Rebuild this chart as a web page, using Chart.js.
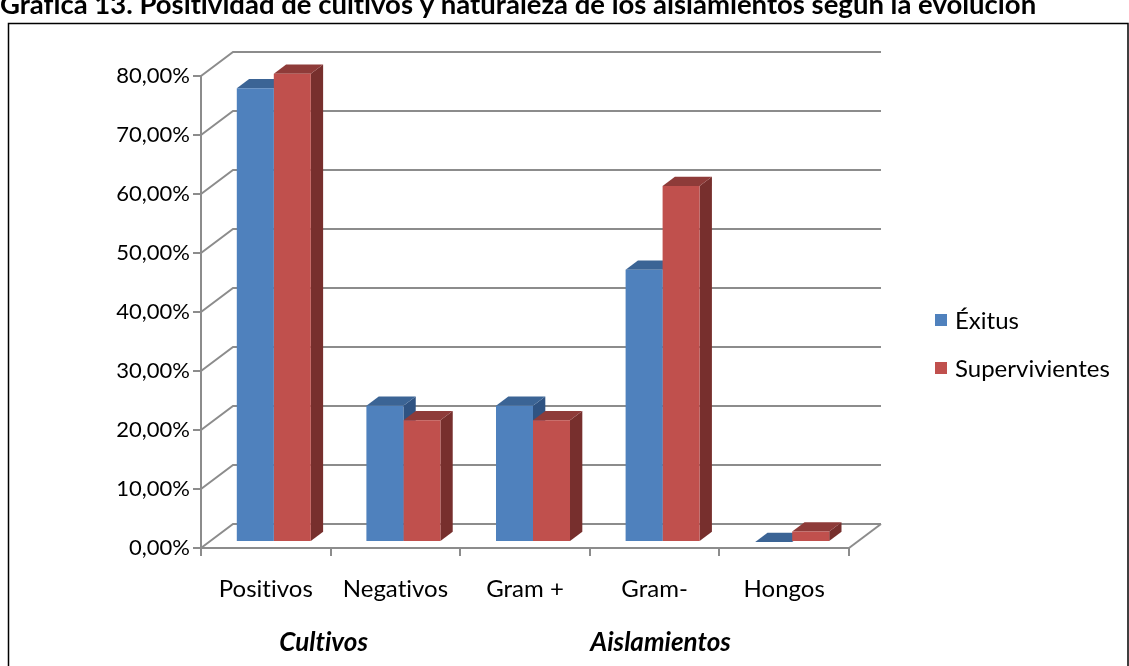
<!DOCTYPE html>
<html>
<head>
<meta charset="utf-8">
<script src="https://cdn.jsdelivr.net/npm/chart.js@4/dist/chart.umd.min.js"></script>
<style>
  html, body { margin: 0; padding: 0; background: #ffffff; overflow: hidden; }
  canvas { display: block; }
</style>
</head>
<body>
<canvas id="chart" width="1129" height="666"></canvas>
<script>
// Chart content
const titleText = 'Gráfica 13. Positividad de cultivos y naturaleza de los aislamientos según la evolución';
const categories = ['Positivos', 'Negativos', 'Gram +', 'Gram-', 'Hongos'];
const seriesNames = ['Éxitus', 'Supervivientes'];
const exitus = [76.92, 23.08, 23.08, 46.15, 0];
const supervivientes = [79.37, 20.63, 20.63, 60.32, 1.8];
const yTicks = [0, 10, 20, 30, 40, 50, 60, 70, 80];
const groupLabels = ['Cultivos', 'Aislamientos'];
const groupSpans = [[0, 1], [2, 4]];
const groupShift = [-7, 6];

// Styling
const FONT = 'Lato, "Open Sans", sans-serif';
const GRID = '#8C8C8C';
const faceFront = ['#4F81BD', '#C0504D'];
const faceTop = ['#3B6495', '#8E3B39'];
const faceSide = ['#2F5382', '#772F2D'];

// 3D box depth (back wall offset) and bar placement inside the depth
const WALL = { dx: 32, dy: -24 };
const BAR_FRONT = 0.25;   // fraction of depth where bar front face sits
const BAR_DEPTH = 0.385;  // bar depth as fraction of box depth

const fmtPct = v => v.toFixed(2).replace('.', ',') + '%';

const box3d = {
  id: 'box3d',
  beforeDraw(chart) {
    // plain glyphs, no ligatures
    chart.ctx.textRendering = 'optimizeSpeed';
  },
  beforeDatasetsDraw(chart) {
    const { ctx, chartArea: a, scales: { x, y } } = chart;
    ctx.save();
    ctx.strokeStyle = GRID;
    ctx.lineWidth = 2;
    // side wall + back wall gridlines
    yTicks.forEach(v => {
      const py = y.getPixelForValue(v);
      ctx.beginPath();
      ctx.moveTo(a.left, py);
      ctx.lineTo(a.left + WALL.dx, py + WALL.dy);
      ctx.lineTo(a.right + WALL.dx, py + WALL.dy);
      ctx.stroke();
    });
    // floor right edge
    const p0 = y.getPixelForValue(0);
    ctx.beginPath();
    ctx.moveTo(a.right, p0);
    ctx.lineTo(a.right + WALL.dx, p0 + WALL.dy);
    ctx.stroke();

    // column tops and right sides
    const ox = WALL.dx * BAR_FRONT, oy = WALL.dy * BAR_FRONT;
    const bx = WALL.dx * BAR_DEPTH, by = WALL.dy * BAR_DEPTH;
    for (let i = 0; i < categories.length; i++) {
      for (let d = 0; d < chart.data.datasets.length; d++) {
        const el = chart.getDatasetMeta(d).data[i];
        const p = el.getProps(['x', 'y', 'base', 'width'], true);
        const L = p.x - p.width / 2 + ox, R = p.x + p.width / 2 + ox;
        const T = p.y + oy, B = p.base + oy;
        ctx.fillStyle = faceSide[d];
        ctx.beginPath();
        ctx.moveTo(R, T); ctx.lineTo(R + bx, T + by);
        ctx.lineTo(R + bx, B + by); ctx.lineTo(R, B);
        ctx.closePath(); ctx.fill();
        ctx.fillStyle = faceTop[d];
        ctx.beginPath();
        ctx.moveTo(L, T); ctx.lineTo(R, T);
        ctx.lineTo(R + bx, T + by); ctx.lineTo(L + bx, T + by);
        ctx.closePath(); ctx.fill();
      }
    }
    ctx.restore();
    // front faces are drawn by Chart.js, shifted into the box depth
    ctx.save();
    ctx.translate(ox, oy);
  },
  afterDatasetsDraw(chart) {
    chart.ctx.restore();
  },
  afterDraw(chart) {
    const { ctx, scales: { x } } = chart;
    ctx.save();
    ctx.textRendering = 'optimizeSpeed';
    // outer frame
    ctx.strokeStyle = '#000000';
    ctx.lineWidth = 1.5;
    ctx.strokeRect(8.5, 23.5, 1119.5, 700);
    // title
    ctx.fillStyle = '#000000';
    ctx.font = 'bold 27.5px ' + FONT;
    ctx.textAlign = 'left';
    ctx.textBaseline = 'alphabetic';
    ctx.fillText(titleText, 0, 14);
    // group captions
    ctx.font = 'italic bold 26px ' + FONT;
    ctx.textAlign = 'center';
    groupLabels.forEach((g, k) => {
      const [i0, i1] = groupSpans[k];
      const cx = (x.getPixelForValue(i0) + x.getPixelForValue(i1)) / 2 + groupShift[k];
      ctx.fillText(g, cx, 651);
    });
    // legend
    ctx.font = '24px ' + FONT;
    ctx.textAlign = 'left';
    ctx.textBaseline = 'middle';
    seriesNames.forEach((n, k) => {
      const cy = 320 + k * 48;
      ctx.fillStyle = faceFront[k];
      ctx.fillRect(935, cy - 6, 12, 12);
      ctx.fillStyle = '#000000';
      ctx.fillText(n, 955, cy + 1);
    });
    ctx.restore();
  }
};

new Chart(document.getElementById('chart'), {
  type: 'bar',
  data: {
    labels: categories,
    datasets: [
      { label: seriesNames[0], data: exitus, backgroundColor: faceFront[0], borderWidth: 0 },
      { label: seriesNames[1], data: supervivientes, backgroundColor: faceFront[1], borderWidth: 0 }
    ]
  },
  options: {
    responsive: false,
    animation: false,
    devicePixelRatio: 1,
    layout: { padding: { top: 76, right: 280, bottom: 0, left: 0 } },
    datasets: { bar: { categoryPercentage: 0.571, barPercentage: 1.0 } },
    plugins: { legend: { display: false }, title: { display: false }, tooltip: { enabled: false } },
    scales: {
      x: {
        grid: { drawOnChartArea: false, drawTicks: true, tickLength: 8, color: GRID, lineWidth: 2, offset: true },
        border: { display: true, color: GRID, width: 2 },
        ticks: { color: '#000000', font: { family: FONT, size: 24 }, padding: 19, maxRotation: 0 },
        afterFit(s) { s.height = 118; }
      },
      y: {
        min: 0, max: 80,
        afterBuildTicks(s) { s.ticks = yTicks.map(v => ({ value: v })); },
        grid: { drawOnChartArea: false, drawTicks: true, tickLength: 8, color: GRID, lineWidth: 2 },
        border: { display: true, color: GRID, width: 2 },
        ticks: { color: '#000000', font: { family: FONT, size: 22 }, padding: 3, callback: v => fmtPct(v) },
        afterFit(s) { s.width = 201; }
      }
    }
  },
  plugins: [box3d]
});
</script>
</body>
</html>
